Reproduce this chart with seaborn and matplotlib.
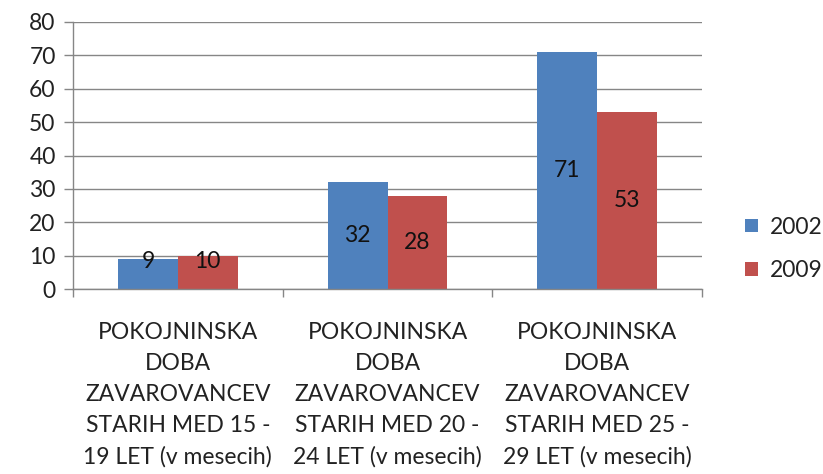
import matplotlib
matplotlib.use("Agg")
import matplotlib.pyplot as plt
import seaborn as sns
import pandas as pd

categories = [
    "POKOJNINSKA\nDOBA\nZAVAROVANCEV\nSTARIH MED 15 -\n19 LET (v mesecih)",
    "POKOJNINSKA\nDOBA\nZAVAROVANCEV\nSTARIH MED 20 -\n24 LET (v mesecih)",
    "POKOJNINSKA\nDOBA\nZAVAROVANCEV\nSTARIH MED 25 -\n29 LET (v mesecih)",
]
series_names = ["2002", "2009"]
values_2002 = [9, 32, 71]
values_2009 = [10, 28, 53]
colors = ["#4F81BD", "#C0504D"]
yticks = [0, 10, 20, 30, 40, 50, 60, 70, 80]

sns.set_theme(style="white")
plt.rcParams["font.family"] = ["Lato", "DejaVu Sans"]

FS = 16.5

df = pd.DataFrame({
    "cat": categories * 2,
    "year": [series_names[0]] * 3 + [series_names[1]] * 3,
    "val": values_2002 + values_2009,
})

fig = plt.figure(figsize=(8.23, 4.74), dpi=100)
ax = fig.add_axes([73 / 823, 1 - 289 / 474, (702 - 73) / 823, (289 - 22) / 474])

sns.barplot(data=df, x="cat", y="val", hue="year", palette=colors,
            width=0.571, gap=0, saturation=1, ax=ax, edgecolor="none", linewidth=0)

ax.set_xlim(-0.5, 2.5)
ax.set_ylim(0, 80)
ax.set_yticks(yticks)
ax.set_yticklabels([str(t) for t in yticks], fontsize=FS, color="#222222")
ax.set_xticks([0, 1, 2])
ax.set_xticklabels(categories, fontsize=FS, color="#222222", linespacing=1.58)
ax.tick_params(axis="x", length=0, pad=24)
ax.tick_params(axis="y", length=6.5, color="#868686", width=1, direction="out", left=True, pad=6)
ax.set_xticks([-0.5, 0.5, 1.5, 2.5], minor=True)
ax.tick_params(axis="x", which="minor", length=6, color="#868686", width=1, direction="out", bottom=True)
ax.set_xlabel("")
ax.set_ylabel("")

ax.yaxis.grid(True, color="#868686", linewidth=1)
ax.set_axisbelow(True)
for s in ["top", "right"]:
    ax.spines[s].set_visible(False)
for s in ["left", "bottom"]:
    ax.spines[s].set_color("#868686")
    ax.spines[s].set_linewidth(1)

for cont in ax.containers:
    for bar in cont:
        h = bar.get_height()
        x = bar.get_x() + bar.get_width() / 2
        ax.text(x, max(h / 2, 8.1), f"{h:.0f}", ha="center", va="center",
                fontsize=FS, color="#111111")

leg = ax.legend(loc="center left", bbox_to_anchor=(745 / 823, 1 - 249 / 474),
                bbox_transform=fig.transFigure, frameon=False, fontsize=FS,
                handlelength=0.55, handleheight=0.55, labelspacing=1.0, handletextpad=0.55,
                borderaxespad=0, borderpad=0)
for t in leg.get_texts():
    t.set_color("#222222")

fig.savefig("out.png", dpi=100)
